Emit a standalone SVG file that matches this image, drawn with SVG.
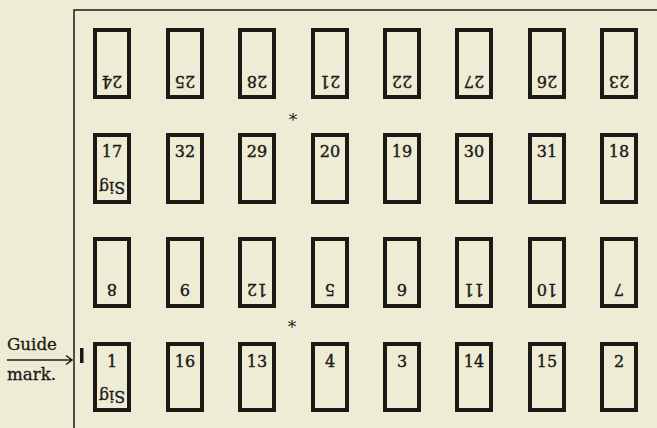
<svg xmlns="http://www.w3.org/2000/svg" width="657" height="428" viewBox="0 0 657 428">
<style>
.pg{fill:none;stroke:#1c1a17;stroke-width:4}
.n{font-family:"DejaVu Serif","Liberation Serif",serif;font-size:16px;fill:#1c1a17;stroke:#1c1a17;stroke-width:0.4;text-anchor:middle}
.s{font-family:"DejaVu Serif","Liberation Serif",serif;font-size:16px;fill:#1c1a17;stroke:#1c1a17;stroke-width:0.3;text-anchor:middle}
.lbl{font-family:"DejaVu Serif","Liberation Serif",serif;font-size:16px;fill:#1c1a17;stroke:#1c1a17;stroke-width:0.3}
.ast{font-family:"DejaVu Serif",serif;font-size:17px;fill:#1c1a17;text-anchor:middle}
.frame{stroke:#1c1a17;stroke-width:1.5;fill:none}
</style>
<rect width="657" height="428" fill="#efecd5"/>
<g id="frame">
<path class="frame" d="M74,428 V10 H657"/>
</g>
<g id="connectors">
<line x1="7" y1="360" x2="71" y2="360" stroke="#1c1a17" stroke-width="1.5"/>
<polyline points="66,355.5 72,360 66,364.5" fill="none" stroke="#1c1a17" stroke-width="1.5"/>
</g>
<g id="guide">
<text class="lbl" x="7" y="350" textLength="50" lengthAdjust="spacingAndGlyphs">Guide</text>
<text class="lbl" x="7" y="380" textLength="49" lengthAdjust="spacingAndGlyphs">mark.</text>
<rect x="80" y="348" width="3.5" height="15" fill="#1c1a17"/>
</g>
<g id="asterisks">
<text class="ast" x="293" y="126">*</text>
<text class="ast" x="292" y="333">*</text>
</g>
<!-- Row 1 (inverted) -->
<g id="p24"><rect class="pg" x="95" y="30" width="34" height="67"/><text class="n" transform="translate(112,76) rotate(180)">24</text></g>
<g id="p25"><rect class="pg" x="168" y="30" width="34" height="67"/><text class="n" transform="translate(185,76) rotate(180)">25</text></g>
<g id="p28"><rect class="pg" x="240" y="30" width="34" height="67"/><text class="n" transform="translate(257,76) rotate(180)">28</text></g>
<g id="p21"><rect class="pg" x="313" y="30" width="34" height="67"/><text class="n" transform="translate(330,76) rotate(180)">21</text></g>
<g id="p22"><rect class="pg" x="385" y="30" width="34" height="67"/><text class="n" transform="translate(402,76) rotate(180)">22</text></g>
<g id="p27"><rect class="pg" x="457" y="30" width="34" height="67"/><text class="n" transform="translate(474,76) rotate(180)">27</text></g>
<g id="p26"><rect class="pg" x="530" y="30" width="34" height="67"/><text class="n" transform="translate(547,76) rotate(180)">26</text></g>
<g id="p23"><rect class="pg" x="602" y="30" width="34" height="67"/><text class="n" transform="translate(619,76) rotate(180)">23</text></g>
<!-- Row 2 -->
<g id="p17"><rect class="pg" x="95" y="135" width="34" height="67"/><text class="n" x="112" y="157">17</text><text class="s" transform="translate(112,182) rotate(180)">Sig</text></g>
<g id="p32"><rect class="pg" x="168" y="135" width="34" height="67"/><text class="n" x="185" y="157">32</text></g>
<g id="p29"><rect class="pg" x="240" y="135" width="34" height="67"/><text class="n" x="257" y="157">29</text></g>
<g id="p20"><rect class="pg" x="313" y="135" width="34" height="67"/><text class="n" x="330" y="157">20</text></g>
<g id="p19"><rect class="pg" x="385" y="135" width="34" height="67"/><text class="n" x="402" y="157">19</text></g>
<g id="p30"><rect class="pg" x="457" y="135" width="34" height="67"/><text class="n" x="474" y="157">30</text></g>
<g id="p31"><rect class="pg" x="530" y="135" width="34" height="67"/><text class="n" x="547" y="157">31</text></g>
<g id="p18"><rect class="pg" x="602" y="135" width="34" height="67"/><text class="n" x="619" y="157">18</text></g>
<!-- Row 3 (inverted) -->
<g id="p8"><rect class="pg" x="95" y="239" width="34" height="67"/><text class="n" transform="translate(112,284) rotate(180)">8</text></g>
<g id="p9"><rect class="pg" x="168" y="239" width="34" height="67"/><text class="n" transform="translate(185,284) rotate(180)">9</text></g>
<g id="p12"><rect class="pg" x="240" y="239" width="34" height="67"/><text class="n" transform="translate(257,284) rotate(180)">12</text></g>
<g id="p5"><rect class="pg" x="313" y="239" width="34" height="67"/><text class="n" transform="translate(330,284) rotate(180)">5</text></g>
<g id="p6"><rect class="pg" x="385" y="239" width="34" height="67"/><text class="n" transform="translate(402,284) rotate(180)">6</text></g>
<g id="p11"><rect class="pg" x="457" y="239" width="34" height="67"/><text class="n" transform="translate(474,284) rotate(180)">11</text></g>
<g id="p10"><rect class="pg" x="530" y="239" width="34" height="67"/><text class="n" transform="translate(547,284) rotate(180)">10</text></g>
<g id="p7"><rect class="pg" x="602" y="239" width="34" height="67"/><text class="n" transform="translate(619,284) rotate(180)">7</text></g>
<!-- Row 4 -->
<g id="p1"><rect class="pg" x="95" y="344" width="34" height="66"/><text class="n" x="112" y="367">1</text><text class="s" transform="translate(112,391) rotate(180)">Sig</text></g>
<g id="p16"><rect class="pg" x="168" y="344" width="34" height="66"/><text class="n" x="185" y="367">16</text></g>
<g id="p13"><rect class="pg" x="240" y="344" width="34" height="66"/><text class="n" x="257" y="367">13</text></g>
<g id="p4"><rect class="pg" x="313" y="344" width="34" height="66"/><text class="n" x="330" y="367">4</text></g>
<g id="p3"><rect class="pg" x="385" y="344" width="34" height="66"/><text class="n" x="402" y="367">3</text></g>
<g id="p14"><rect class="pg" x="457" y="344" width="34" height="66"/><text class="n" x="474" y="367">14</text></g>
<g id="p15"><rect class="pg" x="530" y="344" width="34" height="66"/><text class="n" x="547" y="367">15</text></g>
<g id="p2"><rect class="pg" x="602" y="344" width="34" height="66"/><text class="n" x="619" y="367">2</text></g>
</svg>
